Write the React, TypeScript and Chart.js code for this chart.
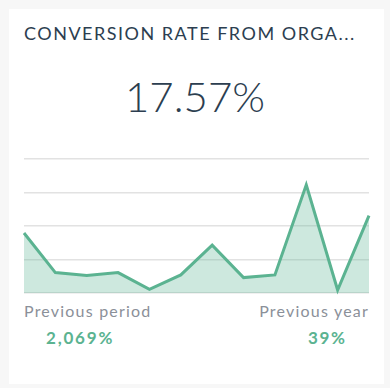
import React, { useEffect, useRef } from "react";
import { Chart, registerables } from "chart.js";

Chart.register(...registerables);

const categories = ["1", "2", "3", "4", "5", "6", "7", "8", "9", "10", "11", "12"];
const values = [8.95, 3.05, 2.6, 3.05, 0.55, 2.7, 7.15, 2.3, 2.7, 16.15, 0.45, 11.55];
const yTicks = [0, 5, 10, 15, 20];

const title = "CONVERSION RATE FROM ORGA...";
const mainValue = "17.57%";
const prevPeriodLabel = "Previous period";
const prevPeriodValue = "2,069%";
const prevYearLabel = "Previous year";
const prevYearValue = "39%";

export default function App() {
  const ref = useRef<HTMLCanvasElement | null>(null);
  useEffect(() => {
    document.body.style.margin = "0";
    const ctx = ref.current!;
    const chart = new Chart(ctx, {
      type: "line",
      data: {
        labels: categories,
        datasets: [
          {
            data: values,
            borderColor: "#5bb391",
            backgroundColor: "rgba(91,179,145,0.3)",
            borderWidth: 3,
            fill: true,
            tension: 0,
            pointRadius: 0,
            borderJoinStyle: "miter",
            clip: false as any,
          },
        ],
      },
      options: {
        animation: false,
        responsive: false,
        maintainAspectRatio: false,
        layout: { padding: { top: 5, bottom: 5, left: 2, right: 2 } },
        plugins: { legend: { display: false }, tooltip: { enabled: false } },
        scales: {
          x: { display: false },
          y: {
            min: yTicks[0],
            max: yTicks[yTicks.length - 1],
            afterBuildTicks: (s: any) => {
              s.ticks = yTicks.map((v) => ({ value: v }));
            },
            ticks: { display: false },
            border: { display: false },
            grid: { color: "#e2e2e2", lineWidth: 1.5, drawTicks: false },
          },
        },
      },
    });
    return () => chart.destroy();
  }, []);

  return (
    <div style={{ position: "fixed", left: 0, top: 0, width: 390, height: 388, background: "#f7f7f7", fontFamily: "Lato, sans-serif" }}>
      <div style={{ position: "absolute", left: 9, top: 9, width: 375, height: 375, background: "#ffffff" }} />
      <div style={{ position: "absolute", left: 24, top: 21, fontSize: 18, letterSpacing: 1.5, color: "#2c3e50", whiteSpace: "nowrap", lineHeight: "24px" }}>
        {title}
      </div>
      <div style={{ position: "absolute", left: 0, width: 390, top: 71, textAlign: "center", fontSize: 42, fontWeight: 300, color: "#2c3e50", lineHeight: "50px" }}>
        {mainValue}
      </div>
      <canvas ref={ref} width={349} height={144} style={{ position: "absolute", left: 22, top: 154, width: 349, height: 144 }} />
      <div style={{ position: "absolute", left: 24, top: 300, fontSize: 16, letterSpacing: 1.2, color: "#8b9099", lineHeight: "21px", whiteSpace: "nowrap" }}>
        {prevPeriodLabel}
      </div>
      <div style={{ position: "absolute", right: 21, top: 300, fontSize: 16, letterSpacing: 1.2, color: "#8b9099", lineHeight: "21px", whiteSpace: "nowrap" }}>
        {prevYearLabel}
      </div>
      <div style={{ position: "absolute", left: 46, top: 327, fontSize: 17, fontWeight: 700, letterSpacing: 1.8, color: "#5bb391", lineHeight: "21px", whiteSpace: "nowrap" }}>
        {prevPeriodValue}
      </div>
      <div style={{ position: "absolute", left: 308, top: 327, fontSize: 17, fontWeight: 700, letterSpacing: 1.6, color: "#5bb391", lineHeight: "21px", whiteSpace: "nowrap" }}>
        {prevYearValue}
      </div>
    </div>
  );
}
